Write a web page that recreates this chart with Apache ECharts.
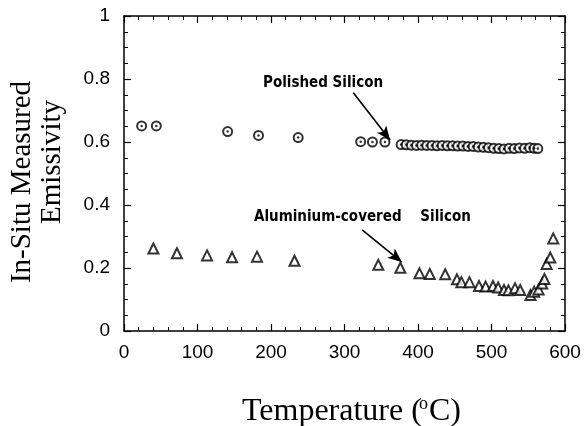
<!DOCTYPE html>
<html><head><meta charset="utf-8">
<script src="https://cdn.jsdelivr.net/npm/echarts@6/dist/echarts.min.js"></script>
<style>html,body{margin:0;padding:0;background:#fff}#c{width:585px;height:426px}</style>
</head><body><div id="c"></div>
<script>
// Polished silicon (circles with centre dot)
const polishedT = [24, 44, 141, 183, 237, 322, 338, 355, 377, 384, 391, 398, 405, 412, 419, 426, 433, 440, 447, 454, 461, 468, 475, 482, 489, 496, 503, 510, 517, 524, 531, 538, 545, 552, 558, 563];
const polishedE = [0.651, 0.651, 0.633, 0.621, 0.614, 0.601, 0.600, 0.600, 0.592, 0.591, 0.590, 0.589, 0.590, 0.589, 0.589, 0.588, 0.589, 0.588, 0.588, 0.587, 0.587, 0.586, 0.586, 0.584, 0.583, 0.582, 0.580, 0.579, 0.578, 0.580, 0.579, 0.581, 0.580, 0.582, 0.580, 0.579];
// Aluminium-covered silicon (triangles)
const alT = [40, 72, 113, 147, 181, 232, 346, 376, 402, 416, 437, 453, 459, 470, 483, 492, 502, 509, 517, 523, 532, 539, 553, 558, 564, 569, 572, 575, 580, 584];
const alE = [0.262, 0.247, 0.240, 0.234, 0.236, 0.223, 0.210, 0.201, 0.183, 0.181, 0.180, 0.164, 0.155, 0.155, 0.143, 0.141, 0.143, 0.138, 0.130, 0.129, 0.136, 0.130, 0.114, 0.125, 0.132, 0.151, 0.165, 0.213, 0.233, 0.294];
const xTicks = [0, 100, 200, 300, 400, 500, 600];
const yTicks = ['0', '0.2', '0.4', '0.6', '0.8', '1'];
// annotation arrows in data units [T, E] -> [T, E]
const arrow1 = [[312, 0.756], [362, 0.606]];
const arrow2 = [[324, 0.321], [378, 0.219]];

const polished = polishedT.map((t, i) => [t, polishedE[i]]);
const al = alT.map((t, i) => [t, alE[i]]);

const axisLine = {show: true, onZero: false, lineStyle: {color: '#000', width: 1.5}};
const xBase = {type: 'value', min: 0, max: 600, interval: 100, axisLine,
  axisTick: {inside: true, length: 7, lineStyle: {color: '#000', width: 1.2}},
  minorTick: {show: true, splitNumber: 5, length: 4, lineStyle: {color: '#000', width: 1}},
  splitLine: {show: false}};
const yBase = {type: 'value', min: 0, max: 1, interval: 0.2, axisLine,
  axisTick: {inside: true, length: 7, lineStyle: {color: '#000', width: 1.2}},
  minorTick: {show: true, splitNumber: 4, length: 4, lineStyle: {color: '#000', width: 1}},
  splitLine: {show: false}};

const chart = echarts.init(document.getElementById('c'), null, {renderer: 'canvas'});
chart.setOption({
  animation: false,
  backgroundColor: '#fff',
  grid: {left: 124, top: 16, width: 441, height: 315},
  xAxis: [
    Object.assign({}, xBase, {position: 'bottom',
      axisLabel: {margin: 12, color: '#000', fontSize: 19, fontFamily: 'Liberation Sans',
        formatter: v => xTicks.includes(v) ? String(v) : ''}}),
    Object.assign({}, xBase, {position: 'top', axisLabel: {show: false}})
  ],
  yAxis: [
    Object.assign({}, yBase, {position: 'left',
      axisLabel: {margin: 14, color: '#000', fontSize: 19, fontFamily: 'Liberation Sans',
        formatter: v => yTicks[Math.round(v * 5)]}}),
    Object.assign({}, yBase, {position: 'right', axisLabel: {show: false}})
  ],
  series: [
    {type: 'scatter', data: polished, symbol: 'emptyCircle', symbolSize: 9,
      itemStyle: {color: '#000', borderColor: '#000', borderWidth: 1.7}, z: 3,
      markLine: {silent: true, symbol: ['none', 'arrow'], symbolSize: [9, 14], label: {show: false},
        lineStyle: {color: '#000', width: 1.6, type: 'solid'},
        data: [[{coord: arrow1[0]}, {coord: arrow1[1]}], [{coord: arrow2[0]}, {coord: arrow2[1]}]]}},
    {type: 'scatter', data: polished, symbol: 'circle', symbolSize: 2.5,
      itemStyle: {color: '#000'}, z: 4},
    {type: 'scatter', data: al, symbol: 'emptyTriangle', symbolSize: 10,
      itemStyle: {color: '#000', borderColor: '#000', borderWidth: 1.7}, z: 3}
  ],
  graphic: [
    {type: 'text', left: 263, top: 76, style: {text: 'Polished Silicon', fill: '#000',
      font: 'bold 15px "DejaVu Sans Condensed", "Liberation Sans"'}},
    {type: 'text', left: 254, top: 210, style: {text: 'Aluminium-covered    Silicon', fill: '#000',
      font: 'bold 15px "DejaVu Sans Condensed", "Liberation Sans"'}},
    {type: 'text', x: 22, y: 182, rotation: Math.PI / 2,
      style: {text: 'In-Situ Measured', fill: '#000', font: '29px "Liberation Serif"', align: 'center', verticalAlign: 'middle'}},
    {type: 'text', x: 52, y: 162, rotation: Math.PI / 2,
      style: {text: 'Emissivity', fill: '#000', font: '29px "Liberation Serif"', align: 'center', verticalAlign: 'middle'}},
    {type: 'text', x: 242, y: 396, style: {text: 'Temperature (', fill: '#000', font: '32px "Liberation Serif"'}},
    {type: 'text', x: 419, y: 395, style: {text: 'o', fill: '#000', font: '18px "Liberation Serif"'}},
    {type: 'text', x: 429, y: 396, style: {text: 'C)', fill: '#000', font: '32px "Liberation Serif"'}}
  ]
});
</script></body></html>
